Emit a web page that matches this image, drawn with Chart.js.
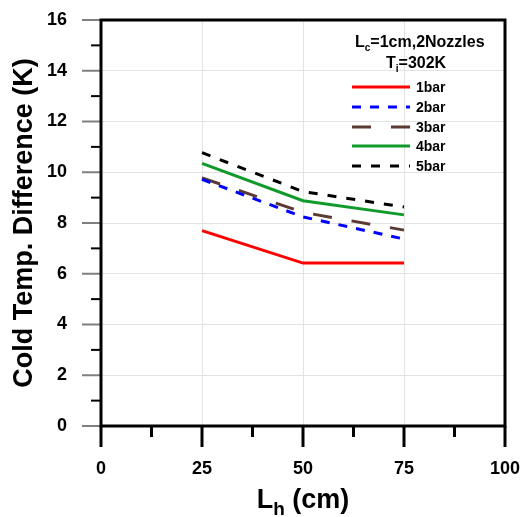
<!DOCTYPE html>
<html>
<head>
<meta charset="utf-8">
<script src="https://cdn.jsdelivr.net/npm/chart.js@4/dist/chart.umd.min.js"></script>
<style>
  html, body { margin: 0; padding: 0; background: #fff; }
  #wrap { width: 529px; height: 517px; }
</style>
</head>
<body>
<div id="wrap"><canvas id="chart" width="529" height="517"></canvas></div>
<script>
// L_h positions (cm)
const lengths = [25, 50, 75];
// cold temperature difference (K) per inlet pressure
const bar1 = [7.7, 6.42, 6.42];
const bar2 = [9.72, 8.24, 7.37];
const bar3 = [9.78, 8.42, 7.72];
const bar4 = [10.35, 8.88, 8.32];
const bar5 = [10.77, 9.24, 8.63];

const seriesNames = ['1bar', '2bar', '3bar', '4bar', '5bar'];
const xTicks = [0, 25, 50, 75, 100];
const yTicks = [0, 2, 4, 6, 8, 10, 12, 14, 16];

const FONT = "'Liberation Sans', Arial, sans-serif";

function pts(vals) {
    return lengths.map((x, i) => ({ x: x, y: vals[i] }));
}

function mkSet(label, vals, color, dash) {
    return {
        label: label,
        data: pts(vals),
        borderColor: color,
        backgroundColor: color,
        borderWidth: 3,
        borderDash: dash,
        borderCapStyle: 'butt',
        pointRadius: 0,
        tension: 0,
        fill: false
    };
}

function drawSub(ctx, main, sub, rest, x, y, size, subSize) {
    ctx.textAlign = 'left';
    ctx.textBaseline = 'alphabetic';
    ctx.font = 'bold ' + size + 'px ' + FONT;
    ctx.fillText(main, x, y);
    x += ctx.measureText(main).width;
    ctx.font = 'bold ' + subSize + 'px ' + FONT;
    ctx.fillText(sub, x, y + subSize * 0.35);
    x += ctx.measureText(sub).width;
    ctx.font = 'bold ' + size + 'px ' + FONT;
    ctx.fillText(rest, x, y);
}

// draws frame, ticks, legend block and x title (subscripts need manual text)
const decorPlugin = {
    id: 'decor',
    afterDraw(chart) {
        const ctx = chart.ctx;
        const a = chart.chartArea;
        const xs = chart.scales.x;
        const ys = chart.scales.y;
        ctx.save();

        // y ticks: gray long at even values, black short at odd
        for (let v = 0; v <= 16; v++) {
            const py = ys.getPixelForValue(v);
            ctx.beginPath();
            ctx.lineWidth = 2;
            if (v % 2 === 0) {
                ctx.strokeStyle = '#7f7f7f';
                ctx.moveTo(a.left - 19, py);
            } else {
                ctx.strokeStyle = '#000';
                ctx.moveTo(a.left - 10, py);
            }
            ctx.lineTo(a.left, py);
            ctx.stroke();
        }
        // x ticks
        ctx.strokeStyle = '#000';
        ctx.lineWidth = 3;
        for (let v = 0; v <= 100; v += 12.5) {
            const px = xs.getPixelForValue(v);
            const major = v % 25 === 0;
            ctx.beginPath();
            ctx.moveTo(px, a.bottom);
            ctx.lineTo(px, a.bottom + (major ? 21 : 11));
            ctx.stroke();
        }

        // frame
        ctx.strokeStyle = '#000';
        ctx.lineWidth = 3;
        ctx.strokeRect(a.left, a.top, a.right - a.left, a.bottom - a.top);

        // legend title
        ctx.fillStyle = '#000';
        drawSub(ctx, 'L', 'c', '=1cm,2Nozzles', 355, 47, 16, 10);
        drawSub(ctx, 'T', 'i', '=302K', 386, 68, 16, 10);

        // legend items
        const rowY = [87, 107, 127, 146, 166];
        chart.data.datasets.forEach((ds, i) => {
            ctx.beginPath();
            ctx.strokeStyle = ds.borderColor;
            ctx.lineWidth = 3;
            ctx.lineCap = 'butt';
            ctx.setLineDash(ds.borderDash || []);
            ctx.moveTo(352, rowY[i]);
            ctx.lineTo(410, rowY[i]);
            ctx.stroke();
            ctx.setLineDash([]);
            ctx.fillStyle = '#000';
            ctx.font = 'bold 14px ' + FONT;
            ctx.textAlign = 'left';
            ctx.textBaseline = 'middle';
            ctx.fillText(ds.label, 416, rowY[i] + 1);
        });

        // x title L_h (cm)
        const cx = (a.left + a.right) / 2;
        ctx.font = 'bold 27px ' + FONT;
        const wL = ctx.measureText('L').width;
        const wRest = ctx.measureText(' (cm)').width;
        ctx.font = 'bold 19px ' + FONT;
        const wS = ctx.measureText('h').width;
        const x0 = cx - (wL + wS + wRest) / 2;
        drawSub(ctx, 'L', 'h', ' (cm)', x0, 508, 27, 19);

        ctx.restore();
    }
};

new Chart(document.getElementById('chart'), {
    type: 'line',
    data: {
        datasets: [
            mkSet(seriesNames[0], bar1, '#ff0000', []),
            mkSet(seriesNames[1], bar2, '#0000ff', [9, 9]),
            mkSet(seriesNames[2], bar3, '#5b3a34', [19, 20]),
            mkSet(seriesNames[3], bar4, '#119a2c', []),
            mkSet(seriesNames[4], bar5, '#000000', [9, 10])
        ]
    },
    options: {
        responsive: false,
        animation: false,
        layout: { padding: { top: 20, right: 24, left: 0, bottom: 0 } },
        plugins: {
            legend: { display: false },
            tooltip: { enabled: false }
        },
        scales: {
            x: {
                type: 'linear',
                min: 0,
                max: 100,
                afterFit(scale) {
                    scale.height = 91;
                    scale.paddingLeft = 0;
                    scale.paddingRight = 0;
                },
                afterBuildTicks(scale) { scale.ticks = xTicks.map(v => ({ value: v })); },
                grid: {
                    color: '#e3e3e3',
                    lineWidth: 1,
                    tickLength: 21,
                    tickColor: 'rgba(0,0,0,0)'
                },
                border: { display: false },
                ticks: {
                    color: '#000',
                    padding: 11,
                    maxRotation: 0,
                    font: { family: FONT, size: 18, weight: 'bold' }
                },
                title: { display: false }
            },
            y: {
                min: 0,
                max: 16,
                afterFit(scale) {
                    scale.width = 101;
                    scale.paddingTop = 0;
                    scale.paddingBottom = 0;
                },
                afterBuildTicks(scale) { scale.ticks = yTicks.map(v => ({ value: v })); },
                grid: {
                    color: '#e3e3e3',
                    lineWidth: 1,
                    tickLength: 19,
                    tickColor: 'rgba(0,0,0,0)'
                },
                border: { display: false },
                ticks: {
                    color: '#000',
                    padding: 15,
                    font: { family: FONT, size: 18, weight: 'bold' }
                },
                title: {
                    display: true,
                    text: 'Cold Temp. Difference (K)',
                    color: '#000',
                    font: { family: FONT, size: 27, weight: 'bold' },
                    padding: { top: 8, bottom: 0 }
                }
            }
        }
    },
    plugins: [decorPlugin]
});
</script>
</body>
</html>
